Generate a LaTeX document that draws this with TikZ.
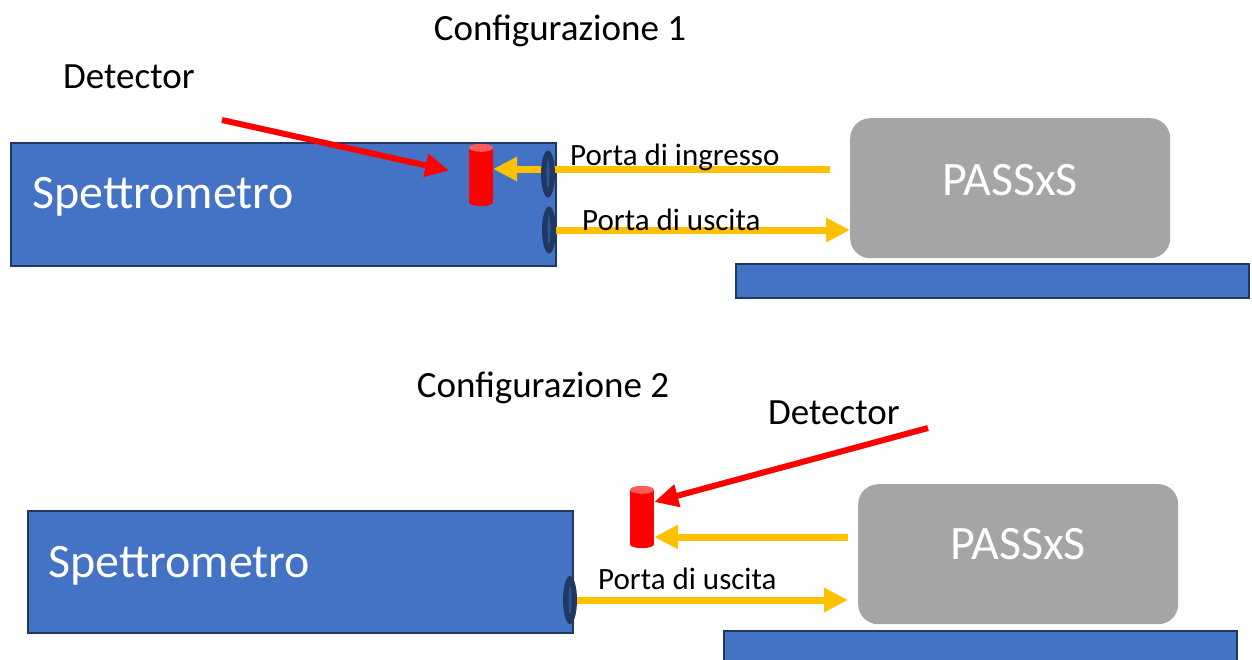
\documentclass[tikz,border=0pt]{standalone}
\usepackage{fontspec}
\setmainfont{Carlito}
\usetikzlibrary{arrows.meta,positioning,calc,shapes.geometric}
\definecolor{spec}{HTML}{4472C4}
\definecolor{edge}{HTML}{1F3864}
\definecolor{pass}{HTML}{A5A5A5}
\definecolor{beam}{HTML}{FFC000}
\definecolor{ray}{HTML}{FF0000}
\definecolor{rayend}{HTML}{FF5B5B}
\definecolor{hole}{HTML}{2F5597}

\begin{document}
\begin{tikzpicture}[x=1pt,y=-1pt,>=Latex,
  box/.style={draw=edge,line width=1.5pt,fill=spec,anchor=north west,inner sep=0pt},
  pbox/.style={fill=pass,rounded corners=20pt,anchor=north west,minimum width=320pt,minimum height=140pt,inner sep=0pt},
  port/.style={ellipse,fill=edge,minimum width=14pt,minimum height=47pt,inner sep=0pt},
  hole/.style={ellipse,fill=hole,minimum width=3pt,minimum height=28pt,inner sep=0pt},
  det/.style={rectangle,fill=ray,minimum width=24pt,minimum height=54pt,inner sep=0pt},
  beamarr/.style={-{Triangle[length=24pt,width=23pt]},beam,line width=7pt},
  rayarr/.style={-{Triangle[length=24pt,width=22pt]},ray,line width=6pt},
  big/.style={font=\fontsize{48}{57}\selectfont,text=white,inner sep=0pt},
  mid/.style={font=\fontsize{37}{44}\selectfont,inner sep=0pt},
  lab/.style={font=\fontsize{31}{37}\selectfont,inner sep=0pt}]
  \useasboundingbox (0,0) rectangle (1252,659);
  % configurazione 1
  \node[mid,anchor=base] (conf1) at (560,40) {Configurazione 1};
  \node[box,minimum width=545pt,minimum height=123pt] (spet1) at (10,142) {};
  \node[big,anchor=base west] (spet1lab) at (32,208) {Spettrometro};
  \node[pbox] (pass1) at (850,118) {};
  \node[big,anchor=base] (pass1lab) at (1010,195) {PASSxS};
  \node[box,minimum width=513pt,minimum height=34pt] (base1) at (735,263) {};
  \node[det] (det1) at (481,175) {};
  \fill[ray] (det1.south) ellipse (12pt and 4pt);
  \fill[rayend] (det1.north) ellipse (12pt and 4pt);
  \coordinate (src1) at (830,169);
  \coordinate (prt1) at (548,174);
  \coordinate (prt2) at (549,230);
  \draw[beamarr] (src1) -- (src1 -| det1.east);
  \draw[beamarr] (prt2) -- (prt2 -| pass1.west);
  \node[port] (in1) at (prt1) {};
  \node[hole] at (in1) {};
  \node[port] (out1) at (prt2) {};
  \node[hole] at (out1) {};
  \node[lab,anchor=base west] (inlab1) at (570,165) {Porta di ingresso};
  \node[lab,anchor=base west] (outlab1) at (582,230) {Porta di uscita};
  \node[mid,anchor=base west] (detlab1) at (63,88) {Detector};
  \coordinate (rs1) at (222,120);
  \draw[rayarr,shorten >=20pt] (rs1) -- (det1.west);
  % configurazione 2
  \node[mid,anchor=base] (conf2) at (543,397) {Configurazione 2};
  \node[box,minimum width=545pt,minimum height=122pt] (spet2) at (27,510) {};
  \node[big,anchor=base west] (spet2lab) at (48,577) {Spettrometro};
  \node[pbox] (pass2) at (858,484) {};
  \node[big,anchor=base] (pass2lab) at (1018,559) {PASSxS};
  \node[box,minimum width=513pt,minimum height=40pt] (base2) at (723,630) {};
  \node[det] (det2) at (642,517) {};
  \fill[ray] (det2.south) ellipse (12pt and 4pt);
  \fill[rayend] (det2.north) ellipse (12pt and 4pt);
  \coordinate (prt3) at (570,600);
  \draw[beamarr,shorten <=10pt] (pass2.west |- 0,537) -- (det2.east |- 0,537);
  \draw[beamarr,shorten >=10pt] (prt3) -- (prt3 -| pass2.west);
  \node[port,minimum height=48pt] (out2) at (prt3) {};
  \node[hole] at (out2) {};
  \node[lab,anchor=base west] (outlab2) at (598,589) {Porta di uscita};
  \node[mid,anchor=base west] (detlab2) at (768,424) {Detector};
  \coordinate (rs2) at (928,428);
  \draw[rayarr] (rs2) -- ($(det2.east)+(0,-15)$);
\end{tikzpicture}
\end{document}
